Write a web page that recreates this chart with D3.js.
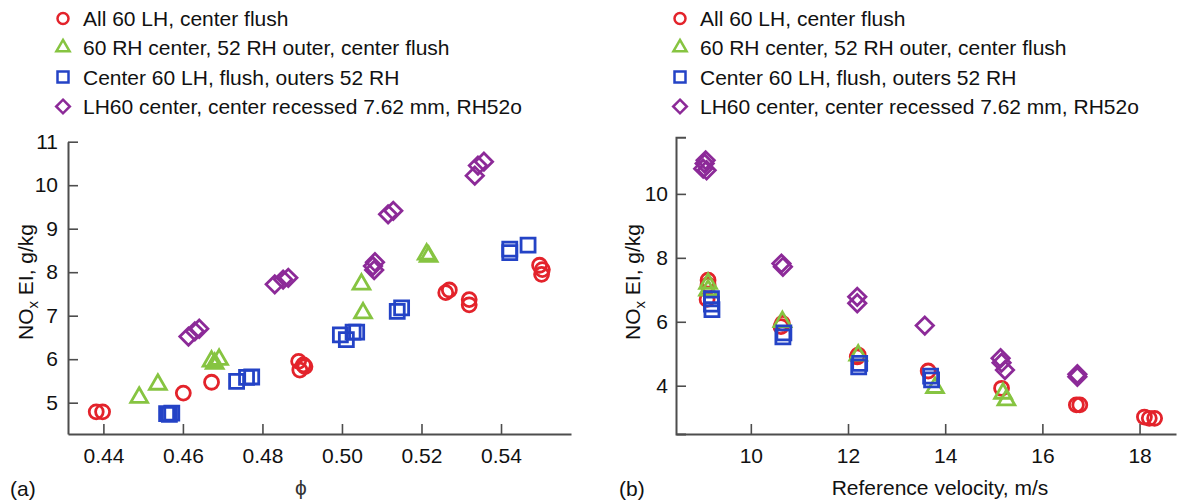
<!DOCTYPE html>
<html>
<head>
<meta charset="utf-8">
<script src="https://cdn.jsdelivr.net/npm/d3@7"></script>
<style>
  body { margin: 0; background: #fff; }
  svg { font-family: "Liberation Sans", Arial, sans-serif; }
</style>
</head>
<body>
<svg width="1185" height="503"></svg>
<script>
// series names (legend)
let seriesNames = [
  "All 60 LH, center flush",
  "60 RH center, 52 RH outer, center flush",
  "Center 60 LH, flush, outers 52 RH",
  "LH60 center, center recessed 7.62 mm, RH52o"
];
let seriesColors = ["#e3232b", "#86c441", "#2443c6", "#8c2a98"];
let seriesShapes = ["circle", "triangle", "square", "diamond"];

// panel (a): NOx EI vs phi
let circlePhi = [0.4382, 0.4398, 0.4601, 0.4672, 0.4891, 0.4903, 0.4894, 0.4907, 0.5261, 0.527, 0.532, 0.532, 0.5497, 0.5504, 0.5502];
let circleNOx = [4.79, 4.79, 5.22, 5.47, 5.95, 5.87, 5.75, 5.83, 7.53, 7.59, 7.37, 7.25, 8.16, 8.06, 7.95];
let trianglePhi = [0.449, 0.4537, 0.4672, 0.4691, 0.468, 0.5049, 0.5053, 0.5213, 0.5218];
let triangleNOx = [5.12, 5.42, 5.95, 5.99, 5.9, 7.72, 7.06, 8.41, 8.36];
let squarePhi = [0.4559, 0.4566, 0.4572, 0.4735, 0.476, 0.4773, 0.4996, 0.5011, 0.5028, 0.5037, 0.5139, 0.515, 0.5422, 0.5422, 0.5468];
let squareNOx = [4.75, 4.73, 4.76, 5.49, 5.58, 5.59, 6.56, 6.45, 6.62, 6.62, 7.10, 7.18, 8.53, 8.45, 8.62];
let diamondPhi = [0.4614, 0.463, 0.4641, 0.4831, 0.4852, 0.4865, 0.5078, 0.5083, 0.5081, 0.5116, 0.5129, 0.5334, 0.5342, 0.5357];
let diamondNOx = [6.52, 6.64, 6.70, 7.72, 7.83, 7.87, 8.14, 8.23, 8.05, 9.33, 9.41, 10.22, 10.45, 10.54];

// panel (b): NOx EI vs reference velocity
let circleVel = [9.12, 9.12, 9.1, 10.65, 10.62, 12.21, 12.19, 13.65, 15.16, 16.70, 16.77, 18.1, 18.2, 18.31];
let circleNOxB = [7.30, 7.15, 6.70, 5.95, 5.85, 4.96, 4.90, 4.46, 3.92, 3.40, 3.40, 3.02, 2.98, 2.98];
let triangleVel = [9.12, 9.12, 10.65, 12.21, 13.79, 15.19, 15.26];
let triangleNOxB = [7.2, 6.99, 6.0, 4.95, 3.94, 3.76, 3.55];
let squareVel = [9.19, 9.19, 9.2, 10.66, 10.68, 12.22, 12.24, 13.72, 13.7];
let squareNOxB = [6.72, 6.55, 6.38, 5.53, 5.65, 4.59, 4.70, 4.18, 4.3];
let diamondVel = [9.05, 9.09, 9.02, 9.07, 10.63, 10.66, 12.19, 12.19, 13.58, 15.14, 15.23, 15.16, 16.72, 16.72];
let diamondNOxB = [10.95, 10.74, 10.79, 11.05, 7.82, 7.72, 6.78, 6.58, 5.88, 4.86, 4.49, 4.72, 4.36, 4.28];

// tick values
let phiTicks = [0.44, 0.46, 0.48, 0.50, 0.52, 0.54];
let noxTicksA = [5, 6, 7, 8, 9, 10, 11];
let velTicks = [10, 12, 14, 16, 18];
let noxTicksB = [4, 6, 8, 10];

let svg = d3.select("svg");
let axisColor = "#4d4d4d";
let fontSize = 21;

function markerPath(shape, s) {
  // s = nominal width
  if (shape == "circle") return d3.symbol(d3.symbolCircle, Math.PI * (s / 2) * (s / 2))();
  if (shape == "square") return d3.symbol(d3.symbolSquare, s * s)();
  if (shape == "triangle") {
    let b = s * 1.2, h = b * Math.sqrt(3) / 2;
    return `M0,${-2 * h / 3}L${b / 2},${h / 3}L${-b / 2},${h / 3}Z`;
  }
  let r = s * 0.62;
  return `M0,${-r}L${r},0L0,${r}L${-r},0Z`;
}

function drawPanel(cfg) {
  let x = d3.scaleLinear().domain(cfg.xDomain).range(cfg.xRange);
  let y = d3.scaleLinear().domain(cfg.yDomain).range(cfg.yRange);

  let xAxis = d3.axisBottom(x).tickValues(cfg.xTicks).tickFormat(cfg.xFormat)
    .tickSize(-10).tickSizeOuter(0).tickPadding(14);
  let yAxis = d3.axisLeft(y).tickValues(cfg.yTicks).tickFormat(d3.format("d"))
    .tickSize(-10).tickSizeOuter(cfg.yOuter).tickPadding(cfg.yPad);

  let gx = svg.append("g").attr("transform", `translate(0, ${cfg.yRange[0]})`).call(xAxis);
  let gy = svg.append("g").attr("transform", `translate(${cfg.xRange[0]}, 0)`).call(yAxis);
  [gx, gy].forEach(g => {
    g.select(".domain").attr("stroke", axisColor).attr("stroke-width", 2);
    g.selectAll(".tick line").attr("stroke", axisColor).attr("stroke-width", 1.6);
    g.selectAll(".tick text").attr("fill", "#111").attr("font-size", fontSize)
      .attr("font-family", "Liberation Sans, Arial, sans-serif");
  });

  // points
  cfg.series.forEach((s, i) => {
    svg.append("g").selectAll("path")
      .data(d3.zip(s[0], s[1]))
      .enter()
      .append("path")
        .attr("d", markerPath(seriesShapes[i], 14))
        .attr("transform", d => `translate(${x(d[0])}, ${y(d[1])})`)
        .attr("fill", "none")
        .attr("stroke", seriesColors[i])
        .attr("stroke-width", 2.8);
  });

  // legend
  seriesNames.forEach((name, i) => {
    let ly = cfg.legendY[i];
    svg.append("path")
      .attr("d", markerPath(seriesShapes[i], 11))
      .attr("transform", `translate(${cfg.legendX}, ${ly})`)
      .attr("fill", "none")
      .attr("stroke", seriesColors[i])
      .attr("stroke-width", 2.5);
    svg.append("text")
      .text(name)
      .attr("x", cfg.legendX + 20)
      .attr("y", ly)
      .attr("dy", "0.36em")
      .attr("font-size", fontSize)
      .attr("fill", "#111");
  });

  // y label
  let yl = svg.append("text")
    .attr("transform", `translate(${cfg.yLabelX}, 282) rotate(-90)`)
    .attr("text-anchor", "middle")
    .attr("font-size", fontSize)
    .attr("fill", "#111");
  yl.append("tspan").text("NO");
  yl.append("tspan").text("x").attr("font-size", 15).attr("dy", 5);
  yl.append("tspan").text(" EI, g/kg").attr("dy", -5);

  // x label
  svg.append("text")
    .text(cfg.xLabel)
    .attr("x", cfg.xLabelX)
    .attr("y", 495)
    .attr("text-anchor", "middle")
    .attr("font-size", fontSize)
    .attr("fill", cfg.xLabelColor);

  // panel tag
  svg.append("text")
    .text(cfg.tag)
    .attr("x", cfg.tagX)
    .attr("y", 496)
    .attr("font-size", fontSize)
    .attr("fill", "#111");
}

drawPanel({
  xDomain: [0.4311, 0.5576], xRange: [68, 571],
  yDomain: [4.28, 11], yRange: [434, 141.7],
  xTicks: phiTicks, yTicks: noxTicksA, xFormat: d3.format(".2f"),
  yOuter: 0, yPad: 10,
  series: [[circlePhi, circleNOx], [trianglePhi, triangleNOx], [squarePhi, squareNOx], [diamondPhi, diamondNOx]],
  legendX: 63, legendY: [18.5, 47.5, 77, 106.5],
  yLabelX: 33, xLabel: "ϕ", xLabelX: 301, xLabelColor: "#333",
  tag: "(a)", tagX: 10
});

drawPanel({
  xDomain: [8.46, 18.75], xRange: [676, 1176],
  yDomain: [2.49, 11.77], yRange: [434, 137.3],
  xTicks: velTicks, yTicks: noxTicksB, xFormat: d3.format("d"),
  yOuter: -10, yPad: 8,
  series: [[circleVel, circleNOxB], [triangleVel, triangleNOxB], [squareVel, squareNOxB], [diamondVel, diamondNOxB]],
  legendX: 680, legendY: [18.5, 47.5, 77, 106.5],
  yLabelX: 640, xLabel: "Reference velocity, m/s", xLabelX: 940, xLabelColor: "#111",
  tag: "(b)", tagX: 619
});
</script>
</body>
</html>
